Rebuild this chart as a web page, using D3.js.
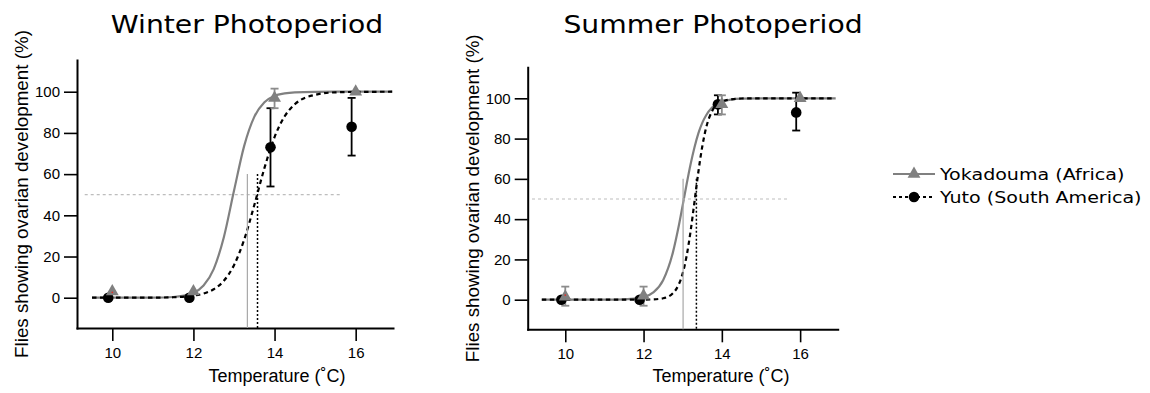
<!DOCTYPE html>
<html>
<head>
<meta charset="utf-8">
<script src="https://cdn.jsdelivr.net/npm/d3@7"></script>
<style>
  body { margin: 0; background: #fff; }
</style>
</head>
<body>
<svg id="chart" width="1150" height="393"></svg>
<script>
// measured points (temperature, % flies with ovarian development)
const temps = [10, 12, 14, 16];
const yutoTemps = [9.9, 11.9, 13.9, 15.9]; // black points are plotted slightly left

const winterYoka = [3, 3, 97, 100];
const winterYokaLo = [3, 3, 92, 100];
const winterYokaHi = [3, 3, 101.5, 100];
const winterYuto = [0, 0, 73, 83];
const winterYutoLo = [0, 0, 54, 69];
const winterYutoHi = [0, 0, 92, 97];

const summerYoka = [1.5, 2, 97, 100];
const summerYokaLo = [-3, -3, 92, 100];
const summerYokaHi = [6.5, 6.5, 101.5, 100];
const summerYuto = [0, 0, 97, 93];
const summerYutoLo = [0, 0, 92, 84];
const summerYutoHi = [0, 0, 101.5, 102.8];

// fitted curves
const winterFitTemps = [9.5, 10.5, 11, 11.5, 12, 12.25, 12.5, 12.75, 13, 13.25, 13.5, 13.75, 14, 14.25, 14.5, 15, 15.5, 16, 16.9];
const winterYokaFit = [0, 0, 0.05, 0.36, 2.4, 5.9, 13.9, 29.4, 51.9, 73.6, 87.8, 94.9, 98, 99.2, 99.7, 99.95, 100, 100, 100];
const winterYutoFit = [0, 0.01, 0.05, 0.23, 1, 2, 4.1, 8.2, 15.8, 28.1, 44.9, 62.9, 78, 88.1, 93.9, 98.5, 99.7, 99.9, 100];

const summerFitTemps = [9.4, 10.5, 11, 11.5, 12, 12.25, 12.5, 12.75, 12.9, 13, 13.1, 13.2, 13.3, 13.4, 13.5, 13.6, 13.75, 14, 14.5, 15, 16, 16.9];
const summerYokaFit = [0, 0, 0.02, 0.16, 1.3, 3.6, 9.7, 23.5, 36.7, 46.9, 57.3, 67.1, 75.6, 82.6, 87.8, 91.6, 95.4, 98.3, 99.8, 100, 100, 100];
const summerYutoFit = [0, 0, 0, 0, 0.03, 0.16, 0.71, 3.2, 7.6, 13.1, 21.7, 33.8, 48.5, 63.4, 76.1, 85.5, 93.6, 98.5, 99.9, 100, 100, 100];

// 50% threshold markers
const winterThresholds = [13.33, 13.58]; // Yokadouma, Yuto
const summerThresholds = [13.01, 13.35];
const thresholdTop = 60;
const halfLevel = 50;
const winterHalfSpan = [9.32, 15.62];
const summerHalfSpan = [9.15, 15.7];
const winterRedDot = [10, 2.6];
const summerRedDot = [10, 2.3];

const xTicks = [10, 12, 14, 16];
const yTicks = [0, 20, 40, 60, 80, 100];
const yDomain = [-14.7, 115.4];
const titles = ["Winter Photoperiod", "Summer Photoperiod"];
const seriesNames = ["Yokadouma (Africa)", "Yuto (South America)"];

const grey = "#808080";
const svg = d3.select("#chart");
const stretch = 1.13; // title/legend glyphs are a bit wider than DejaVu

const panels = [
  {title: titles[0], titleX: 247, xRange: [77, 393], xDom: [9.13, 16.92], yRange: [328, 60], yLabX: 28, xLabX: 277,
   yoka: winterYoka, yokaLo: winterYokaLo, yokaHi: winterYokaHi, yuto: winterYuto, yutoLo: winterYutoLo, yutoHi: winterYutoHi,
   fitT: winterFitTemps, yokaFit: winterYokaFit, yutoFit: winterYutoFit, thr: winterThresholds, half: winterHalfSpan, red: winterRedDot},
  {title: titles[1], titleX: 713, xRange: [527.7, 837.7], xDom: [9.04, 16.96], yRange: [329.3, 67.3], yLabX: 479, xLabX: 721,
   yoka: summerYoka, yokaLo: summerYokaLo, yokaHi: summerYokaHi, yuto: summerYuto, yutoLo: summerYutoLo, yutoHi: summerYutoHi,
   fitT: summerFitTemps, yokaFit: summerYokaFit, yutoFit: summerYutoFit, thr: summerThresholds, half: summerHalfSpan, red: summerRedDot}
];

function drawPanel (p) {
  let x = d3.scaleLinear().domain(p.xDom).range(p.xRange);
  let y = d3.scaleLinear().domain(yDomain).range(p.yRange);
  let g = svg.append("g");

  // title
  g.append("text")
    .attr("transform", `translate(${p.titleX},33) scale(${stretch},1)`)
    .attr("text-anchor", "middle")
    .style("font", "25px 'DejaVu Sans'")
    .text(p.title);

  // axes
  let xAxis = g.append("g")
    .attr("transform", `translate(0,${p.yRange[0]})`)
    .call(d3.axisBottom(x).tickValues(xTicks).tickSize(13).tickSizeOuter(0).tickPadding(6));
  let yAxis = g.append("g")
    .attr("transform", `translate(${p.xRange[0]},0)`)
    .call(d3.axisLeft(y).tickValues(yTicks).tickSize(13).tickSizeOuter(0).tickPadding(4));
  [xAxis, yAxis].forEach(a => {
    a.select(".domain").attr("stroke-width", 2).attr("stroke-linecap", "square");
    a.selectAll(".tick line").attr("stroke-width", 1.6);
    a.selectAll("text").style("font", "15px 'Liberation Sans'").attr("fill", "#000");
  });

  g.append("text")
    .attr("x", p.xLabX).attr("y", 382)
    .attr("text-anchor", "middle")
    .style("font", "18px 'Liberation Sans'")
    .text("Temperature (˚C)");
  g.append("text")
    .attr("transform", `translate(${p.yLabX},${(p.yRange[0] + p.yRange[1]) / 2}) rotate(-90)`)
    .attr("text-anchor", "middle")
    .style("font", "18.8px 'Liberation Sans'")
    .text("Flies showing ovarian development (%)");

  // fitted curves
  let line = d3.line().x(d => x(d[0])).y(d => y(d[1])).curve(d3.curveMonotoneX);
  g.append("path")
    .attr("d", line(p.fitT.map((t, i) => [t, p.yokaFit[i]])))
    .attr("fill", "none").attr("stroke", grey).attr("stroke-width", 2.2);
  g.append("path")
    .attr("d", line(p.fitT.map((t, i) => [t, p.yutoFit[i]])))
    .attr("fill", "none").attr("stroke", "#000").attr("stroke-width", 2.2)
    .attr("stroke-dasharray", "4.5,3.5");

  // 50% guide and threshold lines
  g.append("line")
    .attr("x1", x(p.half[0])).attr("x2", x(p.half[1]))
    .attr("y1", y(halfLevel)).attr("y2", y(halfLevel))
    .attr("stroke", "#bdbdbd").attr("stroke-width", 1.2).attr("stroke-dasharray", "3,3");
  g.append("line")
    .attr("x1", x(p.thr[0])).attr("x2", x(p.thr[0]))
    .attr("y1", y(thresholdTop)).attr("y2", y(yDomain[0]))
    .attr("stroke", "#a8a8a8").attr("stroke-width", 1.2);
  g.append("line")
    .attr("x1", x(p.thr[1])).attr("x2", x(p.thr[1]))
    .attr("y1", y(thresholdTop)).attr("y2", y(yDomain[0]))
    .attr("stroke", "#000").attr("stroke-width", 1.5).attr("stroke-dasharray", "2,2");

  // error bars
  function errorBars (xs, lo, hi, color) {
    let eg = g.append("g").attr("stroke", color).attr("stroke-width", 1.8);
    xs.forEach((t, i) => {
      if (lo[i] === hi[i]) return;
      let cx = x(t);
      eg.append("line").attr("x1", cx).attr("x2", cx).attr("y1", y(lo[i])).attr("y2", y(hi[i]));
      [lo[i], hi[i]].forEach(v => {
        eg.append("line").attr("x1", cx - 4).attr("x2", cx + 4).attr("y1", y(v)).attr("y2", y(v));
      });
    });
  }
  errorBars(yutoTemps, p.yutoLo, p.yutoHi, "#000");
  errorBars(temps, p.yokaLo, p.yokaHi, "#8c8c8c");

  // points
  g.append("g").selectAll("circle")
    .data(yutoTemps.map((t, i) => [t, p.yuto[i]]))
    .join("circle")
    .attr("cx", d => x(d[0])).attr("cy", d => y(d[1])).attr("r", 5.3)
    .attr("fill", "#000");
  g.append("g").selectAll("path")
    .data(temps.map((t, i) => [t, p.yoka[i]]))
    .join("path")
    .attr("d", d3.symbol(d3.symbolTriangle, 72))
    .attr("transform", d => `translate(${x(d[0])},${y(d[1])})`)
    .attr("fill", grey);
  g.append("circle")
    .attr("cx", x(p.red[0])).attr("cy", y(p.red[1])).attr("r", 0.9)
    .attr("fill", "#e0302a");
}

panels.forEach(drawPanel);

// legend
let legend = svg.append("g");
let rows = [
  {name: seriesNames[0], y: 174, color: grey, dash: null, shape: "tri"},
  {name: seriesNames[1], y: 197, color: "#000", dash: "3,3", shape: "dot"}
];
rows.forEach(r => {
  legend.append("line")
    .attr("x1", 893).attr("x2", 935).attr("y1", r.y).attr("y2", r.y)
    .attr("stroke", r.color).attr("stroke-width", 2)
    .attr("stroke-dasharray", r.dash);
  if (r.shape === "tri") {
    legend.append("path")
      .attr("d", d3.symbol(d3.symbolTriangle, 72))
      .attr("transform", `translate(914,${r.y})`)
      .attr("fill", r.color);
  } else {
    legend.append("circle").attr("cx", 914).attr("cy", r.y).attr("r", 5.3).attr("fill", r.color);
  }
  legend.append("text")
    .attr("transform", `translate(940,${r.y + 6}) scale(1.17,1)`)
    .style("font", "16.3px 'DejaVu Sans'")
    .text(r.name);
});
</script>
</body>
</html>
